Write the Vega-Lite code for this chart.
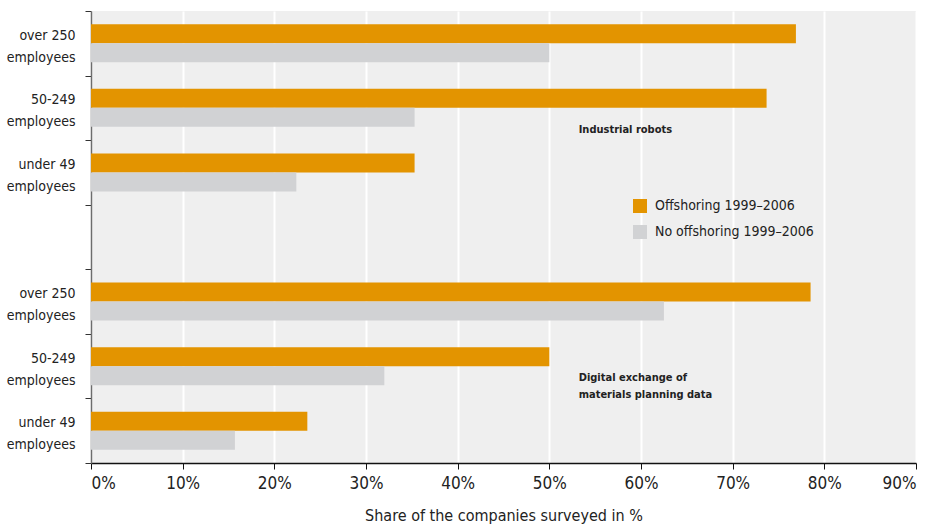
{
  "$schema": "https://vega.github.io/schema/vega-lite/v6.json",
  "width": 825,
  "height": 452,
  "autosize": {"type": "none"},
  "padding": {"left": 91, "top": 11, "right": 20, "bottom": 63},
  "background": "white",
  "config": {
    "view": {"fill": "#EFEFEF", "stroke": null},
    "font": "'DejaVu Sans Condensed', 'Liberation Sans Narrow', Roboto, sans-serif",
    "axis": {"labelFont": "'DejaVu Sans Condensed', 'Liberation Sans Narrow', Roboto, sans-serif", "titleFont": "'DejaVu Sans Condensed', 'Liberation Sans Narrow', Roboto, sans-serif"},
    "legend": {"labelFont": "'DejaVu Sans Condensed', 'Liberation Sans Narrow', Roboto, sans-serif"},
    "text": {"font": "'DejaVu Sans Condensed', 'Liberation Sans Narrow', Roboto, sans-serif"}
  },
  "datasets": {
    "bars": [
      {"key": "R|over 250|employees", "group": "Industrial robots", "series": "Offshoring 1999–2006", "value": 76.9},
      {"key": "R|over 250|employees", "group": "Industrial robots", "series": "No offshoring 1999–2006", "value": 50.0},
      {"key": "R|50-249|employees", "group": "Industrial robots", "series": "Offshoring 1999–2006", "value": 73.7},
      {"key": "R|50-249|employees", "group": "Industrial robots", "series": "No offshoring 1999–2006", "value": 35.3},
      {"key": "R|under 49|employees", "group": "Industrial robots", "series": "Offshoring 1999–2006", "value": 35.3},
      {"key": "R|under 49|employees", "group": "Industrial robots", "series": "No offshoring 1999–2006", "value": 22.4},
      {"key": "D|over 250|employees", "group": "Digital exchange of materials planning data", "series": "Offshoring 1999–2006", "value": 78.5},
      {"key": "D|over 250|employees", "group": "Digital exchange of materials planning data", "series": "No offshoring 1999–2006", "value": 62.5},
      {"key": "D|50-249|employees", "group": "Digital exchange of materials planning data", "series": "Offshoring 1999–2006", "value": 50.0},
      {"key": "D|50-249|employees", "group": "Digital exchange of materials planning data", "series": "No offshoring 1999–2006", "value": 32.0},
      {"key": "D|under 49|employees", "group": "Digital exchange of materials planning data", "series": "Offshoring 1999–2006", "value": 23.6},
      {"key": "D|under 49|employees", "group": "Digital exchange of materials planning data", "series": "No offshoring 1999–2006", "value": 15.7}
    ],
    "notes": [
      {"key": "R|50-249|employees", "x": 53.2, "text": "Industrial robots"},
      {"key": "D|50-249|employees", "x": 53.2, "text": "Digital exchange of\nmaterials planning data"}
    ]
  },
  "layer": [
    {
      "data": {"name": "bars"},
      "mark": {"type": "bar"},
      "encoding": {
        "y": {
          "field": "key",
          "type": "nominal",
          "scale": {
            "domain": ["R|over 250|employees", "R|50-249|employees", "R|under 49|employees", "gap", "D|over 250|employees", "D|50-249|employees", "D|under 49|employees"],
            "paddingInner": 0,
            "paddingOuter": 0
          },
          "axis": {
            "title": null,
            "tickBand": "extent",
            "domainColor": "#6d6d6d",
            "domainWidth": 1.5,
            "tickColor": "#333333",
            "tickSize": 6,
            "labelPadding": 10,
            "labelFontSize": 14,
            "labelColor": "#222222",
            "labelLineHeight": 22,
            "labelOffset": -8,
            "labelExpr": "datum.value == 'gap' ? '' : slice(split(datum.value, '|'), 1)"
          }
        },
        "yOffset": {
          "field": "series",
          "type": "nominal",
          "sort": ["Offshoring 1999–2006", "No offshoring 1999–2006"],
          "scale": {"paddingInner": 0, "paddingOuter": 0.7}
        },
        "x": {
          "field": "value",
          "type": "quantitative",
          "scale": {"domain": [0, 90], "nice": false},
          "axis": {
            "title": "Share of the companies surveyed in %",
            "titleFontSize": 16,
            "titleFontWeight": "normal",
            "titleColor": "#222222",
            "titlePadding": 16,
            "values": [0, 10, 20, 30, 40, 50, 60, 70, 80, 90],
            "labelExpr": "datum.value + '%'",
            "labelFontSize": 17,
            "labelColor": "#222222",
            "labelPadding": 6,
            "domainColor": "#111111",
            "domainWidth": 1.5,
            "tickColor": "#111111",
            "tickSize": 6,
            "gridColor": "white",
            "gridWidth": 2
          }
        },
        "color": {
          "field": "series",
          "type": "nominal",
          "scale": {"domain": ["Offshoring 1999–2006", "No offshoring 1999–2006"], "range": ["#E39400", "#D1D2D4"]},
          "legend": {
            "title": null,
            "orient": "none",
            "legendX": 542,
            "legendY": 188,
            "symbolType": "square",
            "symbolSize": 196,
            "symbolStrokeWidth": 0,
            "symbolOpacity": 1,
            "labelFontSize": 14,
            "labelColor": "#222222",
            "labelOffset": 8,
            "labelLimit": 400,
            "rowPadding": 12
          }
        }
      }
    },
    {
      "data": {"name": "notes"},
      "transform": [{"filter": "datum.key == 'R|50-249|employees'"}],
      "mark": {"type": "text", "align": "left", "baseline": "middle", "fontWeight": "bold", "fontSize": 11, "lineBreak": "\n", "lineHeight": 17, "color": "#222222"},
      "encoding": {
        "y": {"field": "key", "type": "nominal", "bandPosition": 0.85},
        "x": {"field": "x", "type": "quantitative"},
        "text": {"field": "text"}
      }
    },
    {
      "data": {"name": "notes"},
      "transform": [{"filter": "datum.key == 'D|50-249|employees'"}],
      "mark": {"type": "text", "align": "left", "baseline": "middle", "fontWeight": "bold", "fontSize": 11, "lineBreak": "\n", "lineHeight": 17, "color": "#222222"},
      "encoding": {
        "y": {"field": "key", "type": "nominal", "bandPosition": 0.68},
        "x": {"field": "x", "type": "quantitative"},
        "text": {"field": "text"}
      }
    }
  ]
}
